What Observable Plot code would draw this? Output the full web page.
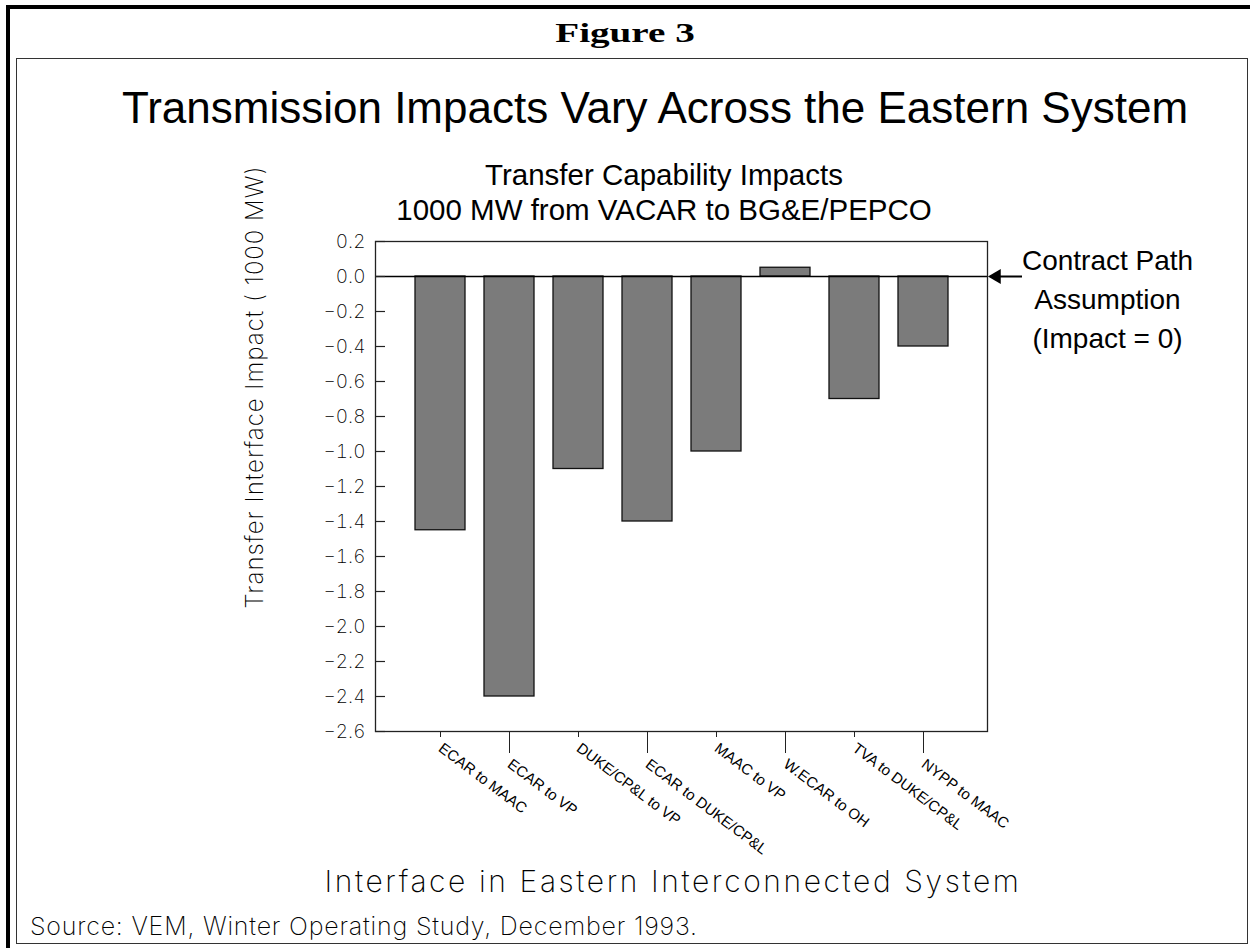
<!DOCTYPE html>
<html><head><meta charset="utf-8">
<script src="https://cdn.jsdelivr.net/npm/d3@7"></script>
<script src="https://cdn.jsdelivr.net/npm/@observablehq/plot@0.6"></script>
<style>
body{margin:0;background:#fff;}
#page{position:relative;width:1250px;height:948px;overflow:hidden;background:#fff;}
#outer{position:absolute;left:6px;top:5px;width:1300px;height:1000px;border:4px solid #000;box-sizing:border-box;}
#inner{position:absolute;left:16px;top:58px;width:1232px;height:886px;border:1.5px solid #333;box-sizing:border-box;}
.thin{font-family:Inter,"DejaVu Sans",sans-serif;font-weight:200;color:#000;white-space:nowrap;}
.arial{font-family:"Liberation Sans",Arial,sans-serif;color:#000;white-space:nowrap;}
#fig{position:absolute;left:625px;top:33px;transform:translate(-50%,-50%) scaleX(1.45);font-family:"Liberation Serif","Times New Roman",serif;font-weight:bold;font-size:27px;white-space:nowrap;}
#title{position:absolute;left:655px;top:108px;transform:translate(-50%,-50%);font-size:44px;}
#sub{position:absolute;left:664px;top:192px;transform:translate(-50%,-50%);font-size:29.5px;text-align:center;line-height:35px;}
#chart{position:absolute;left:0;top:200px;}
#ytitle{position:absolute;left:254px;top:387px;transform:translate(-50%,-50%) rotate(-90deg);font-size:24px;letter-spacing:1px;}
#xtitle{position:absolute;left:673px;top:881px;transform:translate(-50%,-50%);font-size:30px;letter-spacing:2.6px;}
#source{position:absolute;left:30px;top:926px;transform:translate(0,-50%);font-size:25px;letter-spacing:0.8px;}
</style></head><body>
<div id="page">
  <div id="outer"></div>
  <div id="inner"></div>
  <div id="fig">Figure 3</div>
  <div id="title" class="arial">Transmission Impacts Vary Across the Eastern System</div>
  <div id="sub" class="arial">Transfer Capability Impacts<br>1000 MW from VACAR to BG&amp;E/PEPCO</div>
  <div id="chart"></div>
  <div id="ytitle" class="thin">Transfer Interface Impact ( 1000 MW)</div>
  <div id="xtitle" class="thin">Interface in Eastern Interconnected System</div>
  <div id="source" class="thin">Source: VEM, Winter Operating Study, December 1993.</div>
</div>
<script>
const categories = ["ECAR to MAAC", "ECAR to VP", "DUKE/CP&L to VP", "ECAR to DUKE/CP&L", "MAAC to VP", "W.ECAR to OH", "TVA to DUKE/CP&L", "NYPP to MAAC"];
const impacts = [-1.45, -2.4, -1.1, -1.4, -1.0, 0.05, -0.7, -0.4];
const yTicks = [0.2, 0.0, -0.2, -0.4, -0.6, -0.8, -1.0, -1.2, -1.4, -1.6, -1.8, -2.0, -2.2, -2.4, -2.6];
const annotation = ["Contract Path", "Assumption", "(Impact = 0)"];

const data = categories.map((c, i) => ({name: c, value: impacts[i]}));
const shortTicks = categories.filter((c, i) => i % 2 === 0);
const longTicks = categories.filter((c, i) => i % 2 === 1);
const fmt = d => (d < 0 ? "\u2212" : "") + Math.abs(d).toFixed(1);

const W = 1250, H = 640, mL = 375, mR = 263, mT = 41, mB = 109;
const frameW = W - mL - mR;
const thinFont = 'Inter, "DejaVu Sans", sans-serif';
const arialFont = '"Liberation Sans", Arial, sans-serif';

const chart = Plot.plot({
  width: W, height: H,
  marginLeft: mL, marginRight: mR, marginTop: mT, marginBottom: mB,
  style: {background: "transparent", overflow: "visible"},
  x: {type: "band", domain: categories, paddingInner: 0.28, paddingOuter: 0.544, axis: null},
  y: {domain: [-2.6, 0.2], axis: null},
  marks: [
    Plot.barY(data, {x: "name", y: "value", fill: "#7b7b7b", stroke: "#111", strokeWidth: 1.3}),
    Plot.ruleY([0], {stroke: "#000", strokeWidth: 1.6}),
    Plot.frame({stroke: "#222", strokeWidth: 1.3}),
    Plot.ruleY(yTicks, {insetRight: frameW - 10, stroke: "#222", strokeWidth: 1.2}),
    Plot.axisY({ticks: yTicks, tickSize: 0, tickPadding: 10, tickFormat: fmt, label: null,
      fontSize: 19, fontFamily: thinFont, fontWeight: 200, fill: "#000", letterSpacing: 1}),
    Plot.axisX({ticks: shortTicks, tickSize: 6, tickPadding: 9, tickRotate: 37, label: null,
      fontSize: 15, fontFamily: arialFont, fill: "#000", stroke: "#222"}),
    Plot.axisX({ticks: longTicks, tickSize: 22, tickPadding: 9, tickRotate: 37, label: null,
      fontSize: 15, fontFamily: arialFont, fill: "#000", stroke: "#222"}),
    Plot.ruleY([0], {insetLeft: frameW + 4, insetRight: -35, stroke: "#000", strokeWidth: 2}),
    Plot.dot([0], {y: d => d, frameAnchor: "right", dx: 9, symbol: "triangle", rotate: -90, r: 5.5, fill: "#000", stroke: "none"}),
    Plot.text([0], {y: d => d, frameAnchor: "right", dx: 120, dy: 20, text: () => annotation.join("\n"),
      fontSize: 28, lineHeight: 1.39, fontFamily: arialFont, textAnchor: "middle", fill: "#000"})
  ]
});
document.getElementById("chart").appendChild(chart);
</script>
</body></html>
